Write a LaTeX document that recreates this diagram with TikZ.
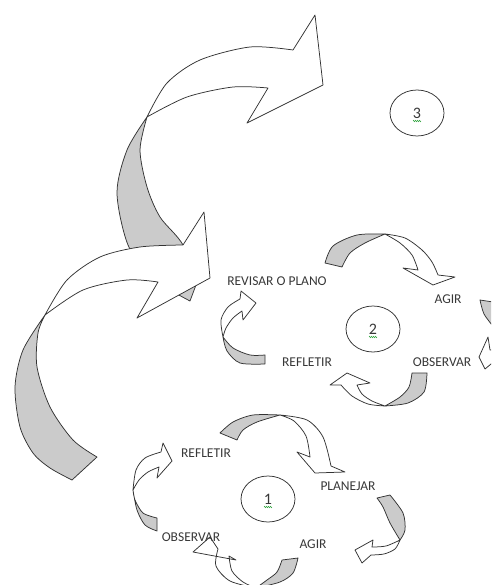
\documentclass[tikz,border=0pt]{standalone}
\usepackage{fontspec}
\setmainfont{Carlito}
\usetikzlibrary{shapes.geometric, decorations.pathmorphing}
\definecolor{ribgray}{HTML}{CBCBCB}
\definecolor{edgecol}{HTML}{333333}
\definecolor{txtcol}{HTML}{383838}
\definecolor{spellgreen}{HTML}{3DAA4A}

\begin{document}
\begin{tikzpicture}[x=1pt, y=-1pt,
  back/.style={draw=edgecol, fill=ribgray, line width=0.75pt, line join=round},
  front/.style={draw=edgecol, fill=white, line width=0.75pt, line join=round},
  lbl/.style={font=\fontsize{13.5}{15}\selectfont, text=txtcol, inner sep=0pt},
  stage/.style={ellipse, draw=edgecol, line width=0.75pt, minimum width=54pt,
    minimum height=46pt, inner sep=0pt, font=\fontsize{16}{17}\selectfont, text=txtcol},
  squig/.style={spellgreen, line width=0.5pt, decorate,
    decoration={zigzag, segment length=2pt, amplitude=0.7pt}},
]
\useasboundingbox (0,0) rectangle (491,585);
\clip (0,0) rectangle (491,585);

% Big arrow, upper
\draw[back] plot[smooth] coordinates {(147,117) (127,150) (117,193) (128,245) (152,278) (190,301)}
  -- (196,285) -- plot[smooth] coordinates {(196,285) (183,245) (160,217) (147,187) (140,150) (147,117)} -- cycle;
\draw[front] plot[smooth] coordinates {(147,117) (167,83) (200,60) (250,47) (293,50)}
  -- (315,15) -- (323,85) -- (247,123)
  -- plot[smooth] coordinates {(268,88) (233,87) (187,97) (147,117)} -- cycle;

% Big arrow, lower
\draw[back] plot[smooth] coordinates {(45,315) (23,350) (15,387) (20,427) (33,453) (50,468) (72,480)}
  -- (97,457) -- plot[smooth] coordinates {(97,457) (73,440) (50,407) (37,367) (38,333) (45,315)} -- cycle;
\draw[front] plot[smooth] coordinates {(45,315) (67,280) (100,257) (140,247) (183,245)}
  -- (204,212) -- (210,278) -- (137,318)
  -- plot[smooth] coordinates {(158,282) (127,280) (83,290) (45,315)} -- cycle;

% Cycle 2 arrows
\draw[back] plot[smooth] coordinates {(325,263) (333,246) (357,235) (385,234)}
  -- plot[smooth] coordinates {(385,234) (365,243) (350,253) (342,267)} -- cycle;
\draw[front] plot[smooth] coordinates {(385,234) (405,238) (422,250) (432,262) (438,275)}
  -- (455,277) -- (433,285) -- (403,268)
  -- plot[smooth] coordinates {(418,270) (412,255) (400,243) (385,234)} -- cycle;

\draw[back] plot[smooth] coordinates {(480,300) (484,314) (494,328) (503,345)}
  -- plot[smooth] coordinates {(503,345) (510,325) (505,310) (493,302)} -- cycle;
\draw[front] plot[smooth] coordinates {(503,345) (500,356) (491,364)}
  -- (485,369) -- (479,357) -- (488,337)
  -- plot[smooth] coordinates {(490,350) (497,349) (503,345)} -- cycle;

\draw[back] plot[smooth] coordinates {(427,373) (424,392) (408,403) (385,406)}
  -- plot[smooth] coordinates {(385,406) (400,397) (409,387) (412,373)} -- cycle;
\draw[front] plot[smooth] coordinates {(385,406) (368,404) (352,396) (341,385)}
  -- (330,385) -- (347,373) -- (370,383)
  -- plot[smooth] coordinates {(357,385) (362,394) (372,401) (385,406)} -- cycle;

\draw[back] plot[smooth] coordinates {(265,364) (240,363) (227,351) (223,337)}
  -- plot[smooth] coordinates {(223,337) (233,348) (250,355) (265,355)} -- cycle;
\draw[front] plot[smooth] coordinates {(223,337) (221,320) (228,307) (240,299)}
  -- (241,291) -- (256,303) -- (243,320)
  -- plot[smooth] coordinates {(242,311) (233,318) (226,328) (223,337)} -- cycle;

% Cycle 1 arrows
\draw[back] plot[smooth] coordinates {(220,433) (233,422) (253,415) (280,415)}
  -- plot[smooth] coordinates {(280,415) (257,422) (243,430) (237,440)} -- cycle;
\draw[front] plot[smooth] coordinates {(280,415) (307,420) (323,437) (331,466)}
  -- (345,472) -- (315,473) -- (297,452)
  -- plot[smooth] coordinates {(310,457) (306,436) (294,421) (280,415)} -- cycle;

\draw[back] plot[smooth] coordinates {(390,495) (403,513) (405,530) (400,540)}
  -- plot[smooth] coordinates {(400,540) (390,523) (383,507) (377,498)} -- cycle;
\draw[front] plot[smooth] coordinates {(400,540) (395,549) (384,554) (371,555)}
  -- (362,563) -- (355,550) -- (373,540)
  -- plot[smooth] coordinates {(372,547) (386,546) (400,540)} -- cycle;

\draw[back] plot[smooth] coordinates {(298,558) (293,573) (280,582) (256,588)}
  -- plot[smooth] coordinates {(256,588) (267,580) (277,572) (282,560)} -- cycle;
\draw[front] plot[smooth] coordinates {(256,588) (230,581) (216,566) (218,549)}
  -- (210,537) -- (193,552) -- (236,560)
  -- plot[smooth] coordinates {(229,556) (232,571) (243,582) (256,588)} -- cycle;

\draw[back] plot[smooth] coordinates {(157,531) (145,525) (137,510) (133,490)}
  -- plot[smooth] coordinates {(133,490) (135,500) (143,513) (157,518)} -- cycle;
\draw[front] plot[smooth] coordinates {(133,490) (136,470) (145,458) (161,452)}
  -- (163,443) -- (172,461) -- (157,478)
  -- plot[smooth] coordinates {(159,467) (148,472) (139,480) (133,490)} -- cycle;

% Stages
\node[stage] (st1) at (268,499) {1};
\node[stage] (st2) at (373,329) {2};
\node[stage] (st3) at (417,113) {3};
\foreach \s in {st1, st2, st3}
  \draw[squig] ([xshift=-4pt, yshift=-8pt]\s.center) -- ++(8,0);

% Labels
\node[lbl] (revisar)   at (277,281) {REVISAR O PLANO};
\node[lbl] (agirB)     at (448,299) {AGIR};
\node[lbl] (refletirB) at (307,362) {REFLETIR};
\node[lbl] (observarB) at (442,362) {OBSERVAR};
\node[lbl] (refletirA) at (206,453) {REFLETIR};
\node[lbl] (planejar)  at (348,486) {PLANEJAR};
\node[lbl] (observarA) at (191,537) {OBSERVAR};
\node[lbl] (agirA)     at (313,544) {AGIR};

\end{tikzpicture}
\end{document}
